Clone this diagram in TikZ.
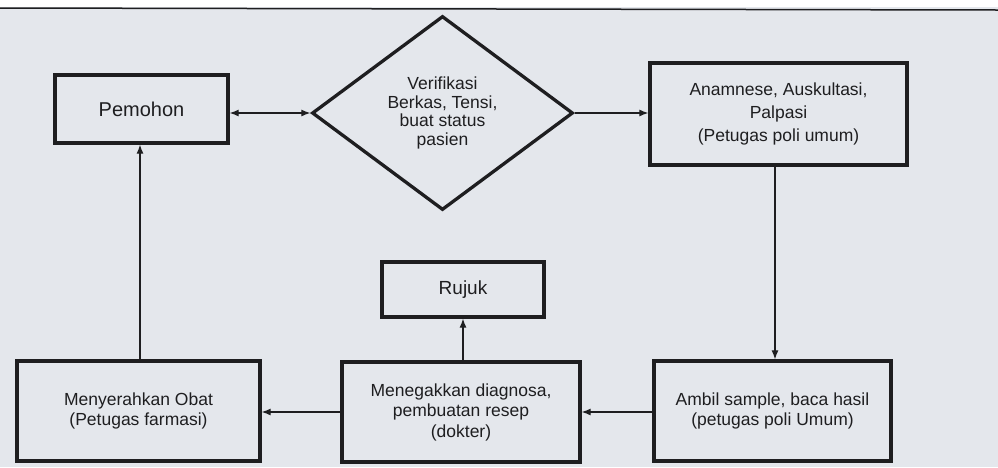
\documentclass[tikz,border=0pt]{standalone}
\usepackage{fontspec}
\setmainfont{Liberation Sans}
\usetikzlibrary{shapes.geometric,arrows.meta}
\definecolor{paper}{RGB}{228,231,236}
\definecolor{ink}{RGB}{30,30,32}
\tikzset{
  box/.style={draw=ink, line width=3.3pt, rectangle, inner sep=0pt, align=center, text=ink,
    font=\fontsize{17.5}{20.5}\selectfont},
  conn/.style={draw=ink, line width=1.2pt, -{Latex[length=9pt,width=7pt]}},
  bconn/.style={draw=ink, line width=1.2pt, {Latex[length=9pt,width=7pt]}-{Latex[length=9pt,width=7pt]}}
}
\begin{document}
\begin{tikzpicture}[x=1pt,y=-1pt]
\useasboundingbox (0,0) rectangle (998,467);
\fill[paper] (0,0) rectangle (998,467);
\fill[white] (0,0) rectangle (998,7);
\draw[ink, line width=1.5pt] (0,8) -- (998,10);

\node[box, minimum width=173pt, minimum height=68pt, font=\fontsize{20}{24}\selectfont] (pem) at (141.5,109) {Pemohon};
\node[draw=ink, line width=3.3pt, diamond, shape aspect=1.345, inner sep=0pt,
  minimum width=261pt, minimum height=194pt, align=center, text=ink,
  font=\fontsize{17.5}{18.5}\selectfont] (dia) at (442.5,113)
  {Verifikasi\\Berkas, Tensi,\\buat status\\pasien};
\node[box, minimum width=257pt, minimum height=102pt, font=\fontsize{17.5}{23}\selectfont] (ana) at (778.5,114)
  {Anamnese, Auskultasi,\\Palpasi\\ (Petugas poli umum)};
\node[box, minimum width=237pt, minimum height=100pt] (amb) at (772.5,411)
  {Ambil sample, baca hasil\\(petugas poli Umum)};
\node[box, minimum width=238pt, minimum height=100pt] (men) at (461,412)
  {Menegakkan diagnosa,\\pembuatan resep\\(dokter)};
\node[box, minimum width=162pt, minimum height=55pt, font=\fontsize{19}{22}\selectfont] (ruj) at (463,289.5) {Rujuk};
\node[box, minimum width=243pt, minimum height=100pt] (obat) at (138.5,411)
  {Menyerahkan Obat\\(Petugas farmasi)};

\draw[bconn] (pem.east |- dia.west) -- (dia.west);
\draw[conn] (dia.east) -- (dia.east -| ana.west);
\draw[conn] (ana.south -| 775,0) -- (amb.north -| 775,0);
\draw[conn] (amb.west |- 0,412) -- (men.east |- 0,412);
\draw[conn] (men.north -| ruj.south) -- (ruj.south);
\draw[conn] (men.west |- 0,412) -- (obat.east |- 0,412);
\draw[conn] (obat.north -| 140,0) -- (pem.south -| 140,0);
\end{tikzpicture}
\end{document}
